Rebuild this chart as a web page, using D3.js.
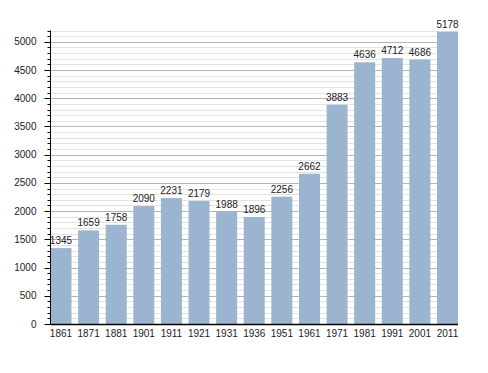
<!DOCTYPE html>
<html>
<head>
<meta charset="utf-8">
<script src="https://cdn.jsdelivr.net/npm/d3@7"></script>
<style>
  body { margin: 0; background: #fff; }
  svg text { font-family: "Liberation Sans", Arial, sans-serif; fill: #222; }
</style>
</head>
<body>
<svg id="chart"></svg>
<script>
const width = 488;
const height = 373;
const marginTop = 30.5;
const marginRight = 30;
const marginBottom = 49;
const marginLeft = 50.5;

// 年份与人口
const years = ["1861", "1871", "1881", "1901", "1911", "1921", "1931", "1936",
  "1951", "1961", "1971", "1981", "1991", "2001", "2011"];
const population = [1345, 1659, 1758, 2090, 2231, 2179, 1988, 1896,
  2256, 2662, 3883, 4636, 4712, 4686, 5178];
const yTicks = [0, 500, 1000, 1500, 2000, 2500, 3000, 3500, 4000, 4500, 5000];
const yMax = 5200;

const svg = d3.select("#chart").attr("width", width).attr("height", height);

const x = d3.scaleBand()
  .domain(years)
  .range([marginLeft, width - marginRight])
  .paddingInner(0.24)
  .paddingOuter(0);

const y = d3.scaleLinear()
  .domain([0, yMax])
  .range([height - marginBottom, marginTop]);

const minorTicks = d3.range(0, yMax + 1, 100);

// 网格线（细）
svg.append("g")
  .selectAll("line")
  .data(minorTicks.filter(d => d % 500 !== 0))
  .join("line")
  .attr("x1", marginLeft)
  .attr("x2", width - marginRight)
  .attr("y1", d => Math.round(y(d)) + 0.5)
  .attr("y2", d => Math.round(y(d)) + 0.5)
  .attr("stroke", "#e2e2e2");

// 网格线（粗）
svg.append("g")
  .selectAll("line")
  .data(yTicks.filter(d => d > 0))
  .join("line")
  .attr("x1", marginLeft)
  .attr("x2", width - marginRight)
  .attr("y1", d => Math.round(y(d)) + 0.5)
  .attr("y2", d => Math.round(y(d)) + 0.5)
  .attr("stroke", "#b4b4b4");

// 柱子
svg.append("g")
  .selectAll("rect")
  .data(population)
  .join("rect")
  .attr("x", (d, i) => x(years[i]))
  .attr("y", d => y(d))
  .attr("width", x.bandwidth())
  .attr("height", d => y(0) - y(d))
  .attr("fill", "#9bb4d0");

// 数值标签
svg.append("g")
  .selectAll("text")
  .data(population)
  .join("text")
  .attr("x", (d, i) => x(years[i]) + x.bandwidth() / 2)
  .attr("y", d => y(d) - 4)
  .attr("text-anchor", "middle")
  .attr("font-size", "10px")
  .text(d => d);

// y轴
const yAxis = svg.append("g")
  .attr("transform", `translate(${marginLeft},0)`);

yAxis.append("line")
  .attr("x1", 0).attr("x2", 0)
  .attr("y1", y(yMax)).attr("y2", y(0))
  .attr("stroke", "#000");

yAxis.selectAll(".minor")
  .data(minorTicks)
  .join("line")
  .attr("class", "minor")
  .attr("x1", -3).attr("x2", 0)
  .attr("y1", d => Math.round(y(d)) + 0.5)
  .attr("y2", d => Math.round(y(d)) + 0.5)
  .attr("stroke", "#000");

yAxis.selectAll(".major")
  .data(yTicks)
  .join("line")
  .attr("class", "major")
  .attr("x1", -6).attr("x2", 0)
  .attr("y1", d => Math.round(y(d)) + 0.5)
  .attr("y2", d => Math.round(y(d)) + 0.5)
  .attr("stroke", "#000");

yAxis.selectAll("text")
  .data(yTicks)
  .join("text")
  .attr("x", -14)
  .attr("y", d => y(d))
  .attr("dy", "0.35em")
  .attr("text-anchor", "end")
  .attr("font-size", "10px")
  .text(d => d);

// x轴
const xAxis = svg.append("g")
  .attr("transform", `translate(0,${y(0)})`);

xAxis.append("line")
  .attr("x1", marginLeft).attr("x2", width - marginRight)
  .attr("y1", 0.5).attr("y2", 0.5)
  .attr("stroke", "#000")
  .attr("stroke-width", 1.5);

xAxis.selectAll("text")
  .data(years)
  .join("text")
  .attr("x", d => x(d) + x.bandwidth() / 2)
  .attr("y", 13)
  .attr("text-anchor", "middle")
  .attr("font-size", "10px")
  .text(d => d);
</script>
</body>
</html>
